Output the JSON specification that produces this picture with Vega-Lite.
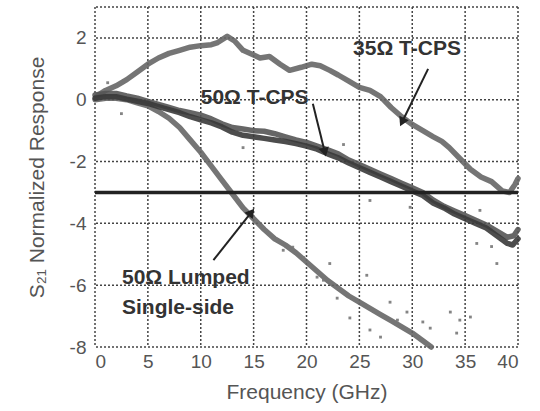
{
  "$schema": "https://vega.github.io/schema/vega-lite/v6.json",
  "autosize": "none",
  "width": 423,
  "height": 340,
  "padding": {"left": 95, "top": 7, "right": 22, "bottom": 64},
  "background": "white",
  "config": {
    "font": "Liberation Sans",
    "view": {"stroke": null},
    "axis": {"grid": false, "domain": false, "ticks": false, "labelFontSize": 19, "labelColor": "#555", "titleFontSize": 21, "titleFontWeight": "normal", "titleColor": "#555"}
  },
  "datasets": {
    "curves": [
      {"series": "35", "f": 0.3, "s21": 0.15}, {"series": "35", "f": 1, "s21": 0.3}, {"series": "35", "f": 2, "s21": 0.45}, {"series": "35", "f": 3, "s21": 0.65}, {"series": "35", "f": 4, "s21": 0.9}, {"series": "35", "f": 5, "s21": 1.15}, {"series": "35", "f": 6, "s21": 1.35}, {"series": "35", "f": 7, "s21": 1.5}, {"series": "35", "f": 8, "s21": 1.6}, {"series": "35", "f": 9, "s21": 1.7}, {"series": "35", "f": 10, "s21": 1.75}, {"series": "35", "f": 11, "s21": 1.78}, {"series": "35", "f": 11.6, "s21": 1.85}, {"series": "35", "f": 12.5, "s21": 2.05}, {"series": "35", "f": 13.2, "s21": 1.9}, {"series": "35", "f": 14, "s21": 1.6}, {"series": "35", "f": 15, "s21": 1.45}, {"series": "35", "f": 15.6, "s21": 1.35}, {"series": "35", "f": 16.5, "s21": 1.4}, {"series": "35", "f": 17.5, "s21": 1.15}, {"series": "35", "f": 18.4, "s21": 0.95}, {"series": "35", "f": 19.5, "s21": 1.05}, {"series": "35", "f": 20.5, "s21": 1.15}, {"series": "35", "f": 21.3, "s21": 1.1}, {"series": "35", "f": 22.2, "s21": 0.95}, {"series": "35", "f": 23, "s21": 0.8}, {"series": "35", "f": 24, "s21": 0.6}, {"series": "35", "f": 25, "s21": 0.4}, {"series": "35", "f": 26, "s21": 0.3}, {"series": "35", "f": 27, "s21": 0.1}, {"series": "35", "f": 28, "s21": -0.25}, {"series": "35", "f": 29, "s21": -0.55}, {"series": "35", "f": 30, "s21": -0.8}, {"series": "35", "f": 31, "s21": -1.0}, {"series": "35", "f": 32, "s21": -1.2}, {"series": "35", "f": 32.8, "s21": -1.35}, {"series": "35", "f": 33.5, "s21": -1.55}, {"series": "35", "f": 34.5, "s21": -1.9}, {"series": "35", "f": 35.5, "s21": -2.25}, {"series": "35", "f": 36.5, "s21": -2.5}, {"series": "35", "f": 37.5, "s21": -2.65}, {"series": "35", "f": 38.5, "s21": -2.95}, {"series": "35", "f": 39.2, "s21": -3.0}, {"series": "35", "f": 39.7, "s21": -2.75}, {"series": "35", "f": 40, "s21": -2.55},
      {"series": "lumped", "f": 0, "s21": 0.0}, {"series": "lumped", "f": 1, "s21": 0.05}, {"series": "lumped", "f": 2, "s21": 0.05}, {"series": "lumped", "f": 3, "s21": 0.0}, {"series": "lumped", "f": 4, "s21": -0.1}, {"series": "lumped", "f": 5, "s21": -0.2}, {"series": "lumped", "f": 6, "s21": -0.38}, {"series": "lumped", "f": 7, "s21": -0.6}, {"series": "lumped", "f": 8, "s21": -0.9}, {"series": "lumped", "f": 9, "s21": -1.3}, {"series": "lumped", "f": 10, "s21": -1.7}, {"series": "lumped", "f": 11, "s21": -2.15}, {"series": "lumped", "f": 12, "s21": -2.6}, {"series": "lumped", "f": 13, "s21": -3.05}, {"series": "lumped", "f": 14, "s21": -3.5}, {"series": "lumped", "f": 15, "s21": -3.85}, {"series": "lumped", "f": 16, "s21": -4.2}, {"series": "lumped", "f": 17, "s21": -4.5}, {"series": "lumped", "f": 18, "s21": -4.7}, {"series": "lumped", "f": 19, "s21": -4.95}, {"series": "lumped", "f": 20, "s21": -5.25}, {"series": "lumped", "f": 21, "s21": -5.55}, {"series": "lumped", "f": 22, "s21": -5.85}, {"series": "lumped", "f": 23, "s21": -6.1}, {"series": "lumped", "f": 24, "s21": -6.35}, {"series": "lumped", "f": 25, "s21": -6.55}, {"series": "lumped", "f": 26, "s21": -6.75}, {"series": "lumped", "f": 27, "s21": -6.95}, {"series": "lumped", "f": 28, "s21": -7.15}, {"series": "lumped", "f": 29, "s21": -7.35}, {"series": "lumped", "f": 30, "s21": -7.55}, {"series": "lumped", "f": 31, "s21": -7.8}, {"series": "lumped", "f": 31.8, "s21": -8.0},
      {"series": "50a", "f": 0, "s21": 0.15}, {"series": "50a", "f": 1, "s21": 0.2}, {"series": "50a", "f": 2, "s21": 0.2}, {"series": "50a", "f": 3, "s21": 0.12}, {"series": "50a", "f": 4, "s21": 0.05}, {"series": "50a", "f": 5, "s21": -0.05}, {"series": "50a", "f": 6, "s21": -0.15}, {"series": "50a", "f": 7, "s21": -0.25}, {"series": "50a", "f": 8, "s21": -0.35}, {"series": "50a", "f": 9, "s21": -0.42}, {"series": "50a", "f": 10, "s21": -0.5}, {"series": "50a", "f": 11, "s21": -0.62}, {"series": "50a", "f": 12, "s21": -0.78}, {"series": "50a", "f": 13, "s21": -0.9}, {"series": "50a", "f": 14, "s21": -0.95}, {"series": "50a", "f": 15, "s21": -1.0}, {"series": "50a", "f": 16, "s21": -1.02}, {"series": "50a", "f": 17, "s21": -1.1}, {"series": "50a", "f": 18, "s21": -1.2}, {"series": "50a", "f": 19, "s21": -1.3}, {"series": "50a", "f": 20, "s21": -1.38}, {"series": "50a", "f": 21, "s21": -1.5}, {"series": "50a", "f": 22, "s21": -1.62}, {"series": "50a", "f": 23, "s21": -1.75}, {"series": "50a", "f": 24, "s21": -1.95}, {"series": "50a", "f": 25, "s21": -2.1}, {"series": "50a", "f": 26, "s21": -2.25}, {"series": "50a", "f": 27, "s21": -2.4}, {"series": "50a", "f": 28, "s21": -2.55}, {"series": "50a", "f": 29, "s21": -2.7}, {"series": "50a", "f": 30, "s21": -2.85}, {"series": "50a", "f": 31, "s21": -3.0}, {"series": "50a", "f": 32, "s21": -3.25}, {"series": "50a", "f": 33, "s21": -3.45}, {"series": "50a", "f": 34, "s21": -3.6}, {"series": "50a", "f": 35, "s21": -3.75}, {"series": "50a", "f": 36, "s21": -3.9}, {"series": "50a", "f": 37, "s21": -4.05}, {"series": "50a", "f": 38, "s21": -4.25}, {"series": "50a", "f": 39, "s21": -4.45}, {"series": "50a", "f": 39.6, "s21": -4.4}, {"series": "50a", "f": 40, "s21": -4.2},
      {"series": "50b", "f": 0, "s21": 0.05}, {"series": "50b", "f": 1, "s21": 0.1}, {"series": "50b", "f": 2, "s21": 0.1}, {"series": "50b", "f": 3, "s21": 0.02}, {"series": "50b", "f": 4, "s21": -0.05}, {"series": "50b", "f": 5, "s21": -0.12}, {"series": "50b", "f": 6, "s21": -0.22}, {"series": "50b", "f": 7, "s21": -0.32}, {"series": "50b", "f": 8, "s21": -0.42}, {"series": "50b", "f": 9, "s21": -0.55}, {"series": "50b", "f": 10, "s21": -0.65}, {"series": "50b", "f": 11, "s21": -0.75}, {"series": "50b", "f": 12, "s21": -0.88}, {"series": "50b", "f": 13, "s21": -1.05}, {"series": "50b", "f": 14, "s21": -1.15}, {"series": "50b", "f": 15, "s21": -1.2}, {"series": "50b", "f": 16, "s21": -1.25}, {"series": "50b", "f": 17, "s21": -1.3}, {"series": "50b", "f": 18, "s21": -1.35}, {"series": "50b", "f": 19, "s21": -1.42}, {"series": "50b", "f": 20, "s21": -1.5}, {"series": "50b", "f": 21, "s21": -1.6}, {"series": "50b", "f": 22, "s21": -1.75}, {"series": "50b", "f": 23, "s21": -1.88}, {"series": "50b", "f": 24, "s21": -2.05}, {"series": "50b", "f": 25, "s21": -2.2}, {"series": "50b", "f": 26, "s21": -2.35}, {"series": "50b", "f": 27, "s21": -2.5}, {"series": "50b", "f": 28, "s21": -2.65}, {"series": "50b", "f": 29, "s21": -2.8}, {"series": "50b", "f": 30, "s21": -2.95}, {"series": "50b", "f": 31, "s21": -3.1}, {"series": "50b", "f": 32, "s21": -3.35}, {"series": "50b", "f": 33, "s21": -3.5}, {"series": "50b", "f": 34, "s21": -3.7}, {"series": "50b", "f": 35, "s21": -3.85}, {"series": "50b", "f": 36, "s21": -4.0}, {"series": "50b", "f": 37, "s21": -4.15}, {"series": "50b", "f": 38, "s21": -4.4}, {"series": "50b", "f": 39, "s21": -4.65}, {"series": "50b", "f": 39.5, "s21": -4.7}, {"series": "50b", "f": 40, "s21": -4.5}
    ],
    "noise": [
      {"f": 17.8, "s21": -4.87}, {"f": 18.7, "s21": -4.77}, {"f": 19.7, "s21": -5.1}, {"f": 21.0, "s21": -5.74}, {"f": 21.6, "s21": -5.84}, {"f": 22.2, "s21": -5.3}, {"f": 22.9, "s21": -6.42}, {"f": 24.1, "s21": -7.06}, {"f": 25.7, "s21": -5.68}, {"f": 26.0, "s21": -7.45}, {"f": 27.0, "s21": -7.68}, {"f": 27.9, "s21": -6.55}, {"f": 28.6, "s21": -7.13}, {"f": 29.5, "s21": -6.87}, {"f": 31.0, "s21": -7.19}, {"f": 31.7, "s21": -7.39}, {"f": 33.6, "s21": -6.87}, {"f": 34.2, "s21": -7.55}, {"f": 34.5, "s21": -7.13}, {"f": 35.5, "s21": -7.03}, {"f": 36.1, "s21": -4.65}, {"f": 38.0, "s21": -5.3},
      {"f": 26.0, "s21": -3.26}, {"f": 29.8, "s21": -3.48}, {"f": 36.4, "s21": -3.58}, {"f": 37.5, "s21": -4.75}, {"f": 23.5, "s21": -1.45}, {"f": 14.0, "s21": -1.55}, {"f": 2.5, "s21": -0.45}, {"f": 1.2, "s21": 0.55}
    ],
    "gridx": [{"f": 0}, {"f": 5}, {"f": 10}, {"f": 15}, {"f": 20}, {"f": 25}, {"f": 30}, {"f": 35}, {"f": 40}],
    "gridy": [{"s21": -8}, {"s21": -6}, {"s21": -4}, {"s21": -2}, {"s21": 0}, {"s21": 2}, {"s21": 3}],
    "labels": [
      {"label": "35Ω T-CPS", "f": 29.5, "s21": 1.65, "pos": "center"},
      {"label": "50Ω T-CPS", "f": 15.1, "s21": 0.06, "pos": "center"},
      {"label": "50Ω Lumped", "f": 2.55, "s21": -5.77, "pos": "left"},
      {"label": "Single-side", "f": 2.55, "s21": -6.74, "pos": "left"}
    ],
    "arrows": [
      {"name": "a35", "f": 31.5, "s21": 1.0, "f2": 29.1, "s212": -0.68},
      {"name": "a50", "f": 20.6, "s21": -0.13, "f2": 21.7, "s212": -1.65},
      {"name": "alump", "f": 11.2, "s21": -5.19, "f2": 14.7, "s212": -3.68}
    ],
    "ref": [{"level": -3}]
  },
  "encoding": {
    "x": {"field": "f", "type": "quantitative", "scale": {"domain": [0, 40], "nice": false},
      "axis": {"values": [0, 5, 10, 15, 20, 25, 30, 35, 40], "title": "Frequency (GHz)", "labelPadding": 5, "titlePadding": 10}},
    "y": {"field": "s21", "type": "quantitative", "scale": {"domain": [-8, 3], "nice": false},
      "axis": {"values": [-8, -6, -4, -2, 0, 2], "labelExpr": "replace(datum.label, '−', '-')", "title": "S₂₁ Normalized Response", "labelPadding": 9, "titlePadding": 22}}
  },
  "layer": [
    {
      "data": {"name": "gridx"},
      "mark": {"type": "rule", "color": "#444", "strokeWidth": 1.5, "strokeDash": [2, 2]},
      "encoding": {"y": null}
    },
    {
      "data": {"name": "gridy"},
      "mark": {"type": "rule", "color": "#444", "strokeWidth": 1.5, "strokeDash": [2, 2]},
      "encoding": {"x": null}
    },
    {
      "data": {"name": "curves"},
      "mark": {"type": "line", "strokeWidth": 5.5, "strokeCap": "round", "strokeJoin": "round", "opacity": 0.9},
      "encoding": {
        "color": {"field": "series", "type": "nominal", "legend": null,
          "scale": {"domain": ["35", "lumped", "50a", "50b"], "range": ["#666666", "#666666", "#555555", "#3a3a3a"]}},
        "detail": {"field": "series"}
      }
    },
    {
      "data": {"name": "noise"},
      "mark": {"type": "square", "size": 8, "color": "#777", "opacity": 0.9}
    },
    {
      "data": {"name": "ref"},
      "mark": {"type": "rule", "color": "#222", "strokeWidth": 3.5},
      "encoding": {"x": null, "y": {"field": "level", "type": "quantitative"}}
    },
    {
      "data": {"name": "labels"},
      "transform": [{"filter": "datum.pos === 'center'"}],
      "mark": {"type": "text", "align": "center", "baseline": "middle", "fontSize": 21, "fontWeight": "bold", "color": "#333"},
      "encoding": {"text": {"field": "label"}}
    },
    {
      "data": {"name": "labels"},
      "transform": [{"filter": "datum.pos === 'left'"}],
      "mark": {"type": "text", "align": "left", "baseline": "middle", "fontSize": 21, "fontWeight": "bold", "color": "#333"},
      "encoding": {"text": {"field": "label"}}
    },
    {
      "data": {"name": "arrows"},
      "mark": {"type": "rule", "color": "#222", "strokeWidth": 2},
      "encoding": {"x2": {"field": "f2"}, "y2": {"field": "s212"}}
    },
    {
      "data": {"name": "arrows"},
      "transform": [{"filter": "datum.name === 'a35'"}],
      "mark": {"type": "point", "shape": "triangle", "filled": true, "color": "#222", "opacity": 1, "size": 110, "angle": 206},
      "encoding": {"x": {"field": "f2", "type": "quantitative"}, "y": {"field": "s212", "type": "quantitative"}}
    },
    {
      "data": {"name": "arrows"},
      "transform": [{"filter": "datum.name === 'a50'"}],
      "mark": {"type": "point", "shape": "triangle", "filled": true, "color": "#222", "opacity": 1, "size": 110, "angle": 166},
      "encoding": {"x": {"field": "f2", "type": "quantitative"}, "y": {"field": "s212", "type": "quantitative"}}
    },
    {
      "data": {"name": "arrows"},
      "transform": [{"filter": "datum.name === 'alump'"}],
      "mark": {"type": "point", "shape": "triangle", "filled": true, "color": "#222", "opacity": 1, "size": 110, "angle": 38},
      "encoding": {"x": {"field": "f2", "type": "quantitative"}, "y": {"field": "s212", "type": "quantitative"}}
    }
  ]
}
